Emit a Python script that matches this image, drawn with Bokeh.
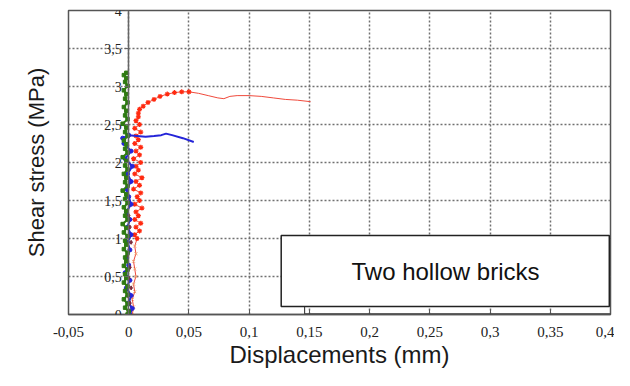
from bokeh.plotting import figure
from bokeh.models import (FixedTicker, BoxAnnotation, Label, Title)
from bokeh.embed import file_html
from bokeh.resources import INLINE

# ---- data ----
x_ticks = [-0.05, 0.0, 0.05, 0.1, 0.15, 0.2, 0.25, 0.3, 0.35, 0.4]
x_tick_labels = ["-0,05", "0", "0,05", "0,1", "0,15", "0,2", "0,25", "0,3", "0,35", "0,4"]
y_ticks = [0.0, 0.5, 1.0, 1.5, 2.0, 2.5, 3.0, 3.5, 4.0]
y_tick_labels = ["0", "0,5", "1", "1,5", "2", "2,5", "3", "3,5", "4"]

green_x = [-0.001, 0.000, -0.003, -0.001, -0.004, -0.001, -0.003, -0.001, -0.004, -0.002,
           -0.003, -0.001, -0.004, -0.002, -0.003, -0.001, -0.004, -0.002, -0.003, -0.001,
           -0.004, -0.002, -0.005, -0.001, -0.003, -0.002, -0.004, -0.001, -0.003, -0.002,
           -0.005, -0.001, -0.003, -0.002, -0.004, -0.001, -0.003, -0.002, -0.005, -0.001,
           -0.003, -0.002, -0.004, -0.001, -0.003, -0.002, -0.005, -0.001, -0.003, -0.002,
           -0.004, -0.001, -0.003, -0.002, -0.004, -0.001, -0.003, -0.002, -0.004, -0.002]
green_y = [0.00, 0.04, 0.09, 0.14, 0.20, 0.26, 0.31, 0.37, 0.42, 0.48,
           0.53, 0.59, 0.64, 0.70, 0.75, 0.81, 0.86, 0.92, 0.97, 1.03,
           1.08, 1.14, 1.19, 1.25, 1.30, 1.36, 1.41, 1.47, 1.52, 1.58,
           1.63, 1.69, 1.74, 1.80, 1.85, 1.91, 1.96, 2.02, 2.07, 2.13,
           2.18, 2.24, 2.29, 2.35, 2.40, 2.46, 2.51, 2.57, 2.62, 2.68,
           2.73, 2.79, 2.84, 2.90, 2.95, 3.01, 3.06, 3.11, 3.15, 3.18]

blue_x = [0.001, 0.003, 0.000, 0.002, -0.002, 0.001, -0.003, 0.000, -0.002, 0.001,
          -0.001, 0.002, -0.001, 0.001, -0.002, 0.002, 0.000, -0.002, 0.002, -0.001,
          0.003, -0.003, 0.002, -0.004, -0.005, 0.000, 0.007, 0.014, 0.021, 0.027,
          0.031, 0.036, 0.045, 0.054]
blue_y = [0.00, 0.08, 0.15, 0.25, 0.35, 0.45, 0.55, 0.65, 0.75, 0.85,
          0.95, 1.05, 1.15, 1.25, 1.35, 1.45, 1.55, 1.65, 1.75, 1.85,
          1.95, 2.05, 2.15, 2.25, 2.32, 2.36, 2.35, 2.34, 2.35, 2.36,
          2.38, 2.36, 2.32, 2.27]

red_x = [0.003, 0.004, 0.003, 0.005, 0.004, 0.006, 0.005, 0.004, 0.006, 0.005,
         0.007, 0.005, 0.009, 0.006, 0.010, 0.005, 0.008, 0.006, 0.011, 0.005,
         0.009, 0.007, 0.010, 0.004, 0.009, 0.006, 0.011, 0.005, 0.008, 0.006,
         0.010, 0.004, 0.009, 0.006, 0.010, 0.005, 0.008, 0.006, 0.010, 0.005,
         0.009, 0.006, 0.008,
         0.008, 0.009, 0.012, 0.016, 0.021, 0.026, 0.032, 0.038, 0.044, 0.050,
         0.058, 0.066, 0.074, 0.079, 0.084, 0.090, 0.100, 0.110, 0.120, 0.130,
         0.140, 0.151]
red_y = [0.00, 0.10, 0.20, 0.30, 0.40, 0.50, 0.60, 0.70, 0.80, 0.90,
         1.00, 1.05, 1.10, 1.15, 1.20, 1.25, 1.30, 1.35, 1.40, 1.45,
         1.50, 1.55, 1.60, 1.65, 1.70, 1.75, 1.80, 1.85, 1.90, 1.95,
         2.00, 2.05, 2.10, 2.15, 2.20, 2.25, 2.30, 2.35, 2.40, 2.45,
         2.50, 2.55, 2.60,
         2.65, 2.70, 2.74, 2.79, 2.83, 2.87, 2.90, 2.92, 2.93, 2.93,
         2.91, 2.88, 2.85, 2.84, 2.87, 2.88, 2.88, 2.87, 2.85, 2.83,
         2.82, 2.80]

brown_x = [0.000, 0.001, -0.001, 0.002, 0.000, 0.001, -0.001, 0.002, 0.001, 0.000]
brown_y = [0.05, 0.15, 0.25, 0.35, 0.48, 0.62, 0.78, 0.95, 1.15, 1.30]

box_text = "Two hollow bricks"
x_label = "Displacements (mm)"
y_label = "Shear stress (MPa)"

# ---- figure ----
p = figure(width=614, height=370, x_range=(-0.05, 0.4), y_range=(0, 4),
           output_backend="svg", toolbar_location=None,
           min_border_left=68, min_border_right=4, min_border_top=10, min_border_bottom=56)
p.background_fill_color = "white"
p.border_fill_color = "white"
p.outline_line_color = "#555555"
p.outline_line_width = 1.5

# grid
p.xgrid.ticker = FixedTicker(ticks=x_ticks)
p.ygrid.ticker = FixedTicker(ticks=y_ticks)
for g in (p.xgrid, p.ygrid):
    g.grid_line_color = "#707070"
    g.grid_line_dash = "2 2"
    g.grid_line_width = 1.5

# x axis
xa = p.xaxis[0]
xa.ticker = FixedTicker(ticks=x_ticks)
xa.major_label_overrides = dict(zip(x_ticks, x_tick_labels))
xa.major_tick_in = 5
xa.major_tick_out = 0
xa.minor_tick_line_color = None
xa.axis_line_color = "#555555"
xa.axis_line_width = 1.5
xa.major_tick_line_color = "#555555"
xa.major_label_text_font = "Liberation Serif"
xa.major_label_text_font_size = "15px"
xa.major_label_text_color = "#222222"
xa.major_label_standoff = 12
xa.axis_label = x_label
xa.axis_label_text_font = "Liberation Sans"
xa.axis_label_text_font_style = "normal"
xa.axis_label_text_font_size = "24px"
xa.axis_label_text_color = "#1a1a1a"
xa.axis_label_standoff = 1

# y axis drawn at x = 0
ya = p.yaxis[0]
ya.fixed_location = 0
ya.ticker = FixedTicker(ticks=y_ticks)
ya.major_label_overrides = dict(zip(y_ticks, y_tick_labels))
ya.major_tick_in = 0
ya.major_tick_out = 4
ya.minor_tick_line_color = None
ya.axis_line_color = "#666666"
ya.axis_line_width = 1.5
ya.major_tick_line_color = "#666666"
ya.major_label_text_font = "Liberation Serif"
ya.major_label_text_font_size = "14px"
ya.major_label_text_color = "#222222"
ya.major_label_standoff = 3

p.add_layout(Title(text=y_label, align="center", text_font="Liberation Sans",
                   text_font_size="22px", text_font_style="normal",
                   text_color="#1a1a1a", standoff=40, offset=20), "left")

# ---- series ----
p.line(red_x, red_y, line_color="#ef4a3c", line_width=1)
p.scatter(red_x[10:53], red_y[10:53], marker="asterisk", size=5,
          line_color="#ff2a10", line_width=1.2)
p.scatter(red_x[:10], red_y[:10], marker="x", size=4,
          line_color="#f0a070", line_width=1)

p.line(blue_x, blue_y, line_color="#2424d8", line_width=2)
p.scatter(blue_x[:26], blue_y[:26], marker="circle", size=4,
          fill_color="#2424d8", line_color="#2424d8")

p.scatter(brown_x, brown_y, marker="diamond", size=4,
          fill_color="#7a2a3a", line_color="#7a2a3a")

p.line(green_x, green_y, line_color="#2e7a12", line_width=2)
p.scatter(green_x, green_y, marker="square", size=3.5,
          fill_color="#2e7a12", line_color="#2e7a12")

# ---- text box with shadow ----
p.add_layout(BoxAnnotation(left=0.146, right=0.401, bottom=0.01, top=1.0,
                           fill_color=None, line_color="#444444", line_alpha=1.0,
                           line_width=1.2))
p.add_layout(BoxAnnotation(left=0.1266, right=0.399, bottom=0.104, top=1.04,
                           fill_color="white", fill_alpha=1.0,
                           line_color="#222222", line_alpha=1.0, line_width=1.5))
p.add_layout(Label(x=0.263, y=0.572, text=box_text, text_align="center",
                   text_baseline="middle", text_font="Liberation Sans",
                   text_font_size="24px", text_color="#111111"))

open("out.html", "w").write(file_html(p, INLINE))
